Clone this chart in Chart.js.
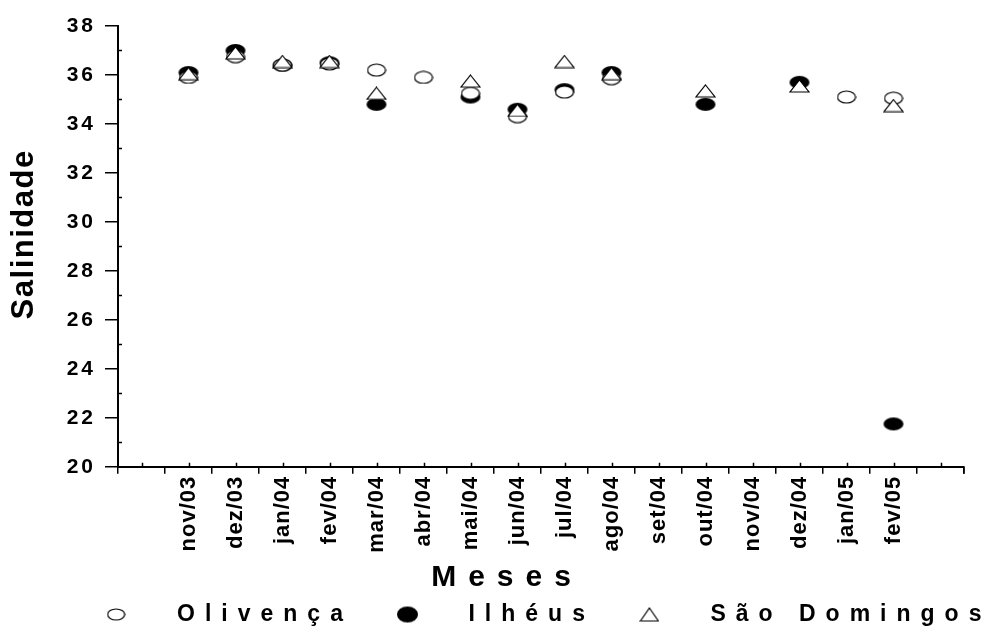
<!DOCTYPE html>
<html><head><meta charset="utf-8">
<script src="https://cdn.jsdelivr.net/npm/chart.js@4.4.1/dist/chart.umd.min.js"></script>
<style>html,body{margin:0;padding:0;background:#fff;}</style>
</head><body>
<canvas id="c" width="991" height="640"></canvas>
<script>
// ---- data ----
const months = ['', 'nov/03', 'dez/03', 'jan/04', 'fev/04', 'mar/04', 'abr/04', 'mai/04', 'jun/04', 'jul/04', 'ago/04', 'set/04', 'out/04', 'nov/04', 'dez/04', 'jan/05', 'fev/05', ''];
const olivenca    = [null, 35.9, 36.75, 36.4, 36.45, 36.2, 35.9, 35.25, 34.3, 35.3, 35.85, null, null, null, null, 35.1, 35.05, null];
const ilheus      = [null, 36.1, 37.0, 36.4, 36.5, 34.8, null, 35.1, 34.6, 35.4, 36.1, null, 34.8, null, 35.7, null, 21.75, null];
const saoDomingos = [null, 36.05, 36.9, 36.55, 36.55, 35.25, null, 35.75, 34.55, 36.55, 36.05, null, 35.35, null, 35.55, null, 34.75, null];
const seriesNames = ['Olivença', 'Ilhéus', 'São Domingos'];
const yMin = 20, yMax = 38, yStep = 2;

const FONT = "'Liberation Sans', Arial, sans-serif";

// ---- marker images ----
function ellipseImg(w, h, fill, stroke) {
  const c = document.createElement('canvas');
  c.width = w + 2; c.height = h + 2;
  const g = c.getContext('2d');
  g.beginPath();
  g.ellipse(c.width / 2, c.height / 2, w / 2, h / 2, 0, 0, Math.PI * 2);
  g.fillStyle = fill; g.fill();
  if (stroke) { g.lineWidth = 1.2; g.strokeStyle = stroke; g.stroke(); }
  return c;
}
function triangleImg(w, h) {
  const c = document.createElement('canvas');
  c.width = w + 2; c.height = h + 2;
  const g = c.getContext('2d');
  g.beginPath();
  g.moveTo(c.width / 2, 1);
  g.lineTo(c.width - 1, c.height - 1);
  g.lineTo(1, c.height - 1);
  g.closePath();
  g.fillStyle = '#fff'; g.fill();
  g.lineWidth = 1.2; g.strokeStyle = '#000'; g.stroke();
  return c;
}
const mkOpen = ellipseImg(18, 12, '#fff', '#000');
const mkBlack = ellipseImg(20, 13, '#000', null);
const mkTri = triangleImg(19, 12);
const lgOpen = ellipseImg(17, 11, '#fff', '#000');
const lgBlack = ellipseImg(21, 16, '#000', null);
const lgTri = triangleImg(18, 13);

// ---- text styling: letter spacing and small nudges for specific texts ----
const canvas = document.getElementById('c');
const ctx0 = canvas.getContext('2d');
const SP = new Map();
for (let v = yMin; v <= yMax; v += yStep) SP.set(String(v), { s: 3 });
months.forEach(m => { if (m) SP.set(m, { s: 1 }); });
SP.set('Meses', { s: 12, dx: 25 });
SP.set('Salinidade', { s: 1.5, dx: 12 });
seriesNames.forEach(n => SP.set(n, { s: 10 }));
const rawFill = ctx0.fillText, rawMeasure = ctx0.measureText;
ctx0.fillText = function (t, x, y, ...a) {
  const st = SP.get(String(t));
  if (st === undefined) return rawFill.call(this, t, x, y, ...a);
  const p = this.letterSpacing; this.letterSpacing = st.s + 'px';
  rawFill.call(this, t, x + (st.dx || 0), y, ...a); this.letterSpacing = p;
};
ctx0.measureText = function (t) {
  const st = SP.get(String(t));
  if (st === undefined) return rawMeasure.call(this, t);
  const p = this.letterSpacing; this.letterSpacing = st.s + 'px';
  const r = rawMeasure.call(this, t); this.letterSpacing = p; return r;
};

// ---- legend offset (legend row sits right of the canvas centre) ----
const LEGEND_SHIFT = 47;
const legendShift = {
  id: 'legendShift',
  afterLayout(chart) {
    const lg = chart.legend;
    if (lg) { lg.left += LEGEND_SHIFT; lg.right += LEGEND_SHIFT; }
  }
};

// ---- extra ticks plugin (minor ticks, closing tick) ----
const minorTicks = {
  id: 'minorTicks',
  afterDraw(chart) {
    const { ctx, scales: { x, y } } = chart;
    ctx.save();
    ctx.strokeStyle = '#000'; ctx.lineWidth = 1.5;
    ctx.beginPath();
    for (let v = yMin + yStep / 2; v < yMax; v += yStep) {
      const py = Math.round(y.getPixelForValue(v)) + 0.5;
      ctx.moveTo(x.left, py); ctx.lineTo(x.left + 4, py);
    }
    for (let i = 0; i < months.length; i++) {
      const px = Math.round(x.getPixelForValue(i)) + 0.5;
      ctx.moveTo(px, y.bottom); ctx.lineTo(px, y.bottom - 4);
    }
    ctx.moveTo(x.right, y.bottom); ctx.lineTo(x.right, y.bottom + 7);
    ctx.stroke();
    ctx.restore();
  }
};

const ds = (label, data, img, order) => ({
  label, data, showLine: false, pointStyle: img, pointRadius: 9, pointHoverRadius: 9,
  borderColor: '#000', backgroundColor: '#000', order
});

new Chart(ctx0, {
  type: 'line',
  data: {
    labels: months,
    datasets: [
      ds(seriesNames[0], olivenca, mkOpen, 1),
      ds(seriesNames[1], ilheus, mkBlack, 2),
      ds(seriesNames[2], saoDomingos, mkTri, 0)
    ]
  },
  options: {
    responsive: false, animation: false, devicePixelRatio: 1,
    layout: { padding: { top: 26, right: 27, left: 0, bottom: 4 } },
    scales: {
      x: {
        type: 'category', offset: true,
        grid: { offset: true, drawOnChartArea: false, drawTicks: true, tickLength: 7, color: '#000', lineWidth: 1.5 },
        border: { display: true, color: '#000', width: 2 },
        ticks: { autoSkip: false, minRotation: 90, maxRotation: 90, color: '#000', padding: 2,
                 font: { family: FONT, size: 22, weight: 'bold' } },
        afterFit(s) { s.height = 93; }
      },
      y: {
        min: yMin, max: yMax,
        ticks: { stepSize: yStep, color: '#000', padding: 9, font: { family: FONT, size: 21, weight: 'bold' } },
        grid: { drawOnChartArea: false, tickLength: 13, color: '#000', lineWidth: 1.5 },
        border: { display: true, color: '#000', width: 2 },
        title: { display: true, text: 'Salinidade', color: '#000', padding: { top: 6, bottom: 0 },
                 font: { family: FONT, size: 31, weight: 'bold' } },
        afterFit(s) { s.width = 118; }
      }
    },
    plugins: {
      title: { display: true, position: 'bottom', text: 'Meses', color: '#000', weight: 500,
               padding: { top: 2, bottom: 4.75 }, font: { family: FONT, size: 30, weight: 'bold', lineHeight: 1.05 } },
      legend: {
        position: 'bottom',
        labels: {
          usePointStyle: true, pointStyleWidth: 99, padding: 5, color: '#000',
          font: { family: FONT, size: 23, weight: 'bold' },
          generateLabels() {
            const imgs = [lgOpen, lgBlack, lgTri];
            return seriesNames.map((n, i) => ({ text: n, pointStyle: imgs[i], fillStyle: '#000', strokeStyle: '#000',
              lineWidth: 0, hidden: false, datasetIndex: i, fontColor: '#000' }));
          }
        }
      },
      tooltip: { enabled: false }
    }
  },
  plugins: [minorTicks, legendShift]
});
</script>
</body></html>
